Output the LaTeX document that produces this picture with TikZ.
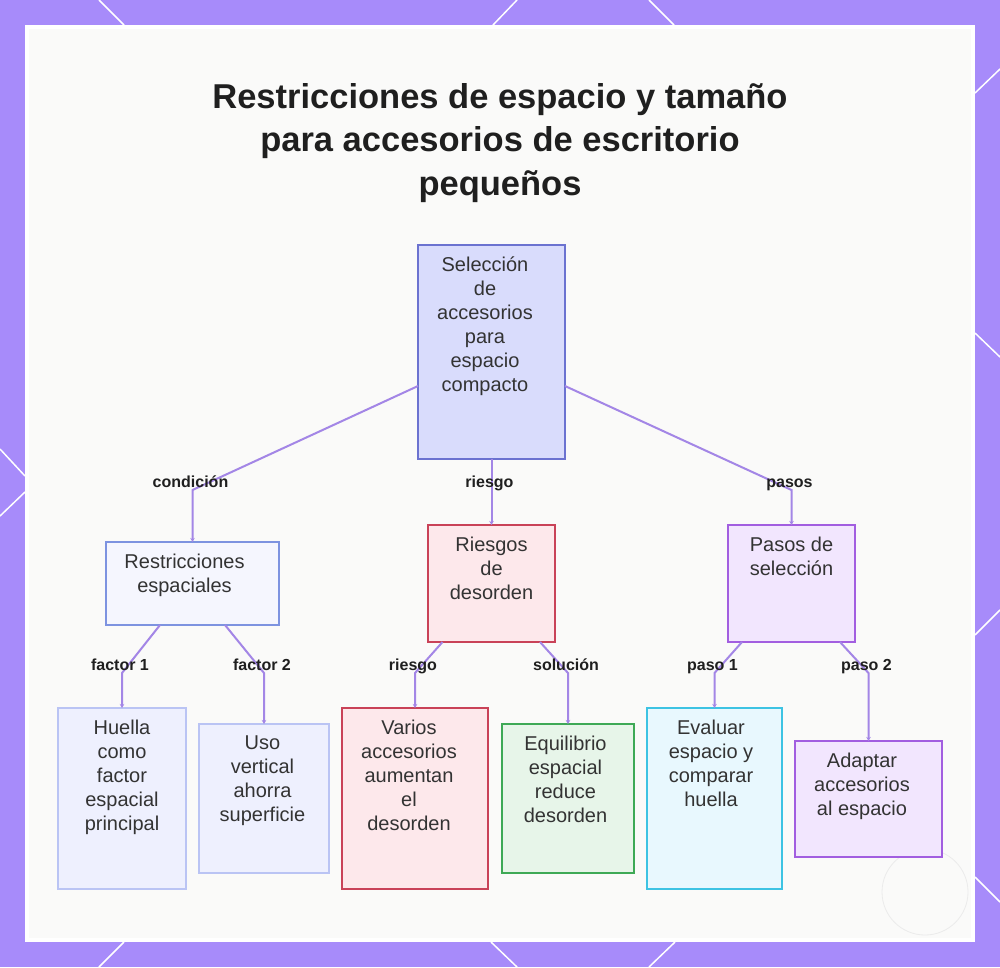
\documentclass[tikz,border=0pt]{standalone}
\usepackage{fontspec}
\setmainfont{Liberation Sans}
\usepackage{xcolor}
\usetikzlibrary{arrows.meta}

\definecolor{framebg}{HTML}{A78BFA}
\definecolor{panelbg}{HTML}{FAFAF9}
\definecolor{connc}{HTML}{A386E6}
\definecolor{txtc}{HTML}{333333}
\definecolor{lblc}{HTML}{1F1F1F}
\definecolor{selfill}{HTML}{D9DCFC}\definecolor{seldraw}{HTML}{6B72D0}
\definecolor{rsfill}{HTML}{F5F6FE}\definecolor{rsdraw}{HTML}{7D93E0}
\definecolor{hufill}{HTML}{EEF0FE}\definecolor{hudraw}{HTML}{BAC4F4}
\definecolor{rdfill}{HTML}{FDE8EB}\definecolor{rddraw}{HTML}{C94258}
\definecolor{eqfill}{HTML}{E7F5E9}\definecolor{eqdraw}{HTML}{3EA956}
\definecolor{psfill}{HTML}{F2E6FE}\definecolor{psdraw}{HTML}{A25EE0}
\definecolor{evfill}{HTML}{E8F8FE}\definecolor{evdraw}{HTML}{3DC3E3}

\tikzset{
  box/.style={draw, line width=1.5pt, inner sep=0pt, outer sep=0pt, anchor=north west},
  boxtext/.style={align=center, anchor=north, inner sep=0pt, text=txtc,
    font=\fontsize{20}{24}\selectfont, execute at begin node=\strut, yshift=-2.5pt},
  lbl/.style={font=\bfseries\fontsize{16}{19}\selectfont, text=lblc, inner sep=0pt,
    text height=11pt, text depth=3pt, xshift=-2pt, yshift=6.5pt},
  conn/.style={draw=connc, line width=2pt, -{Stealth[length=4pt,width=4.5pt]}},
  ttl/.style={align=center, anchor=north, inner sep=0pt, text=lblc,
    font=\bfseries\fontsize{34.5}{43.5}\selectfont, execute at begin node=\strut}
}

\begin{document}
\begin{tikzpicture}[x=1pt,y=-1pt]
    \useasboundingbox (0,0) rectangle (1000,967);
    % frame and panel
    \fill[framebg] (0,0) rectangle (1000,967);
    \draw[white, line width=1.5pt] (99,0) -- (124,25) (517,0) -- (493,25) (649,0) -- (674,25);
    \draw[white, line width=1.5pt] (124,942) -- (99,967) (491,942) -- (517,967) (675,942) -- (649,967);
    \draw[white, line width=1.5pt] (0,449) -- (25,476) (25,492) -- (0,516);
    \draw[white, line width=1.5pt] (1000,69) -- (975,93) (975,333) -- (1000,357) (1000,610) -- (975,635) (975,877) -- (1000,902);
    \fill[white] (25,25) rectangle (975,942);
    \fill[panelbg] (29,29) rectangle (971,938);
    \draw[black!8, line width=0.8pt] (925,892) circle (43);

    \node[ttl] (title) at (500,83) {Restricciones de espacio y tamaño\\para accesorios de escritorio\\pequeños};

    \coordinate (r1) at (0,490);
    \coordinate (r2) at (0,673);

    % boxes
    \node[box, fill=selfill, draw=seldraw, minimum width=147pt, minimum height=214pt] (sel) at (418,245) {};
    \node[boxtext] at ([xshift=-6.5pt,yshift=-9pt]sel.north) {Selección\\de\\accesorios\\para\\espacio\\compacto};

    \node[box, fill=rsfill, draw=rsdraw, minimum width=173pt, minimum height=83pt] (rs) at (106,542) {};
    \node[boxtext] at ([xshift=-8pt,yshift=-9pt]rs.north) {Restricciones\\espaciales};

    \node[box, fill=rdfill, draw=rddraw, minimum width=127pt, minimum height=117pt] (rd) at (428,525) {};
    \node[boxtext] at ([yshift=-9pt]rd.north) {Riesgos\\de\\desorden};

    \node[box, fill=psfill, draw=psdraw, minimum width=127pt, minimum height=117pt] (ps) at (728,525) {};
    \node[boxtext] at ([yshift=-9pt]ps.north) {Pasos de\\selección};

    \node[box, fill=hufill, draw=hudraw, minimum width=128pt, minimum height=181pt] (hu) at (58,708) {};
    \node[boxtext] at ([yshift=-9pt]hu.north) {Huella\\como\\factor\\espacial\\principal};

    \node[box, fill=hufill, draw=hudraw, minimum width=130pt, minimum height=149pt] (uso) at (199,724) {};
    \node[boxtext] at ([xshift=-1.5pt,yshift=-9pt]uso.north) {Uso\\vertical\\ahorra\\superficie};

    \node[box, fill=rdfill, draw=rddraw, minimum width=146pt, minimum height=181pt] (va) at (342,708) {};
    \node[boxtext] at ([xshift=-6pt,yshift=-9pt]va.north) {Varios\\accesorios\\aumentan\\el\\desorden};

    \node[box, fill=eqfill, draw=eqdraw, minimum width=132pt, minimum height=149pt] (eq) at (502,724) {};
    \node[boxtext] at ([xshift=-2.5pt,yshift=-9pt]eq.north) {Equilibrio\\espacial\\reduce\\desorden};

    \node[box, fill=evfill, draw=evdraw, minimum width=135pt, minimum height=181pt] (ev) at (647,708) {};
    \node[boxtext] at ([xshift=-3.5pt,yshift=-9pt]ev.north) {Evaluar\\espacio y\\comparar\\huella};

    \node[box, fill=psfill, draw=psdraw, minimum width=147pt, minimum height=116pt] (ad) at (795,741) {};
    \node[boxtext] at ([xshift=-6.5pt,yshift=-9pt]ad.north) {Adaptar\\accesorios\\al espacio};

    % connectors
    \draw[conn] ([yshift=-34pt]sel.west) -- (rs.north |- r1) node[lbl] {condición} -- (rs.north);
    \draw[conn] (sel.south) -- (rd.north |- r1) node[lbl] {riesgo} -- (rd.north);
    \draw[conn] ([yshift=-34pt]sel.east) -- (ps.north |- r1) node[lbl] {pasos} -- (ps.north);

    \draw[conn] ([xshift=54pt]rs.south west) -- (hu.north |- r2) node[lbl] {factor 1} -- (hu.north);
    \draw[conn] ([xshift=-54pt]rs.south east) -- (uso.north |- r2) node[lbl] {factor 2} -- (uso.north);
    \draw[conn] ([xshift=14.5pt]rd.south west) -- (va.north |- r2) node[lbl] {riesgo} -- (va.north);
    \draw[conn] ([xshift=-15pt]rd.south east) -- (eq.north |- r2) node[lbl] {solución} -- (eq.north);
    \draw[conn] ([xshift=14pt]ps.south west) -- (ev.north |- r2) node[lbl] {paso 1} -- (ev.north);
    \draw[conn] ([xshift=-15pt]ps.south east) -- (ad.north |- r2) node[lbl] {paso 2} -- (ad.north);
\end{tikzpicture}
\end{document}
